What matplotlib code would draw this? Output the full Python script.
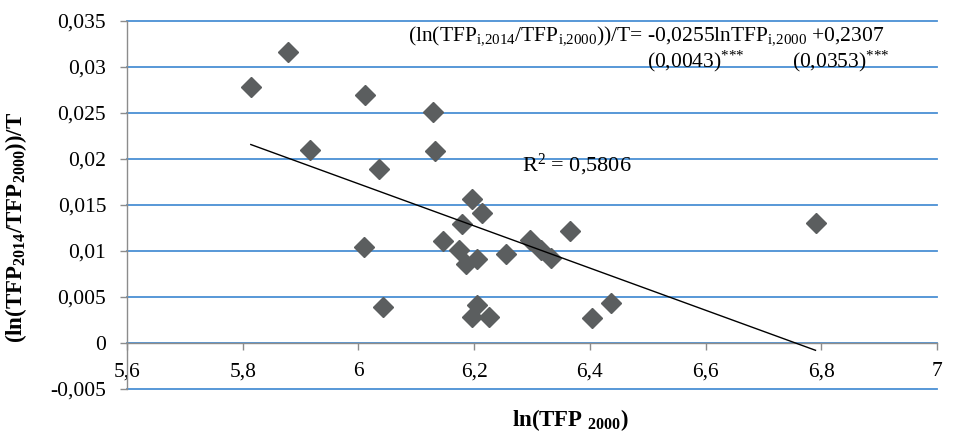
import matplotlib
matplotlib.use('Agg')
import matplotlib.pyplot as plt
import numpy as np

# ---- data ----
ln_tfp_2000 = [5.814, 5.879, 5.916, 6.012, 6.036, 6.010, 6.043, 6.129, 6.133,
               6.197, 6.214, 6.179, 6.147, 6.174, 6.186, 6.205, 6.255, 6.205,
               6.197, 6.226, 6.297, 6.316, 6.333, 6.366, 6.403, 6.436, 6.790]
growth_rate = [0.02783, 0.03163, 0.02098, 0.02696, 0.01891, 0.01043, 0.00391,
               0.02511, 0.02087, 0.01565, 0.01413, 0.01293, 0.01109, 0.01011,
               0.00859, 0.00913, 0.00967, 0.00413, 0.00283, 0.00283, 0.01120,
               0.01011, 0.00924, 0.01217, 0.00272, 0.00435, 0.01304]

x_ticks = [5.6, 5.8, 6.0, 6.2, 6.4, 6.6, 6.8, 7.0]
x_tick_labels = ['5,6', '5,8', '6', '6,2', '6,4', '6,6', '6,8', '7']
y_ticks = [-0.005, 0.0, 0.005, 0.01, 0.015, 0.02, 0.025, 0.03, 0.035]
y_tick_labels = ['-0,005', '0', '0,005', '0,01', '0,015', '0,02', '0,025', '0,03', '0,035']

equation_text = (r'(ln(TFP$_{\mathrm{i{,}2014}}$/TFP$_{\mathrm{i{,}2000}}$))/T= '
                 r'-0,0255lnTFP$_{\mathrm{i{,}2000}}$ +0,2307')
se_slope_text = r'(0,0043)$^{{*}{*}{*}}$'
se_const_text = r'(0,0353)$^{{*}{*}{*}}$'
r2_text = r'R$^{2}$ = 0,5806'
y_label = r'(ln(TFP$_{\mathbf{2014}}$/TFP$_{\mathbf{2000}}$))/T'
x_label = r'ln(TFP $_{\mathbf{2000}}$)'

# ---- style ----
plt.rcParams['font.family'] = ['Liberation Serif', 'DejaVu Serif']
plt.rcParams['mathtext.fontset'] = 'custom'
plt.rcParams['mathtext.rm'] = 'Liberation Serif'
plt.rcParams['mathtext.it'] = 'Liberation Serif:italic'
plt.rcParams['mathtext.bf'] = 'Liberation Serif:bold'

W, H = 958, 447
fig = plt.figure(figsize=(W / 100, H / 100), dpi=100)
ax = fig.add_axes([127 / W, 1 - 389 / H, 810 / W, 368 / H])

grid_c = '#4A90D4'
axis_c = '#8C8C8C'
mark_c = '#5B5E5F'

ax.set_xlim(5.6, 7.0)
ax.set_ylim(-0.005, 0.035)
ax.set_xticks(x_ticks)
ax.set_xticklabels(x_tick_labels)
ax.set_yticks(y_ticks)
ax.set_yticklabels(y_tick_labels)

ax.yaxis.grid(True, color=grid_c, lw=1.3)
ax.xaxis.grid(False)
ax.set_axisbelow(True)
for gl in ax.get_ygridlines():
    gl.set_clip_on(False)

ax.spines['top'].set_visible(False)
ax.spines['right'].set_visible(False)
ax.spines['bottom'].set_position(('data', 0))
ax.spines['bottom'].set_color(axis_c)
ax.spines['left'].set_color(axis_c)
ax.spines['bottom'].set_linewidth(1.0)
ax.spines['left'].set_linewidth(1.0)
ax.tick_params(axis='both', direction='out', length=5, width=1, color=axis_c,
               labelsize=15.5, labelcolor='black')
ax.tick_params(axis='x', pad=9)
ax.tick_params(axis='y', pad=10)

ax.plot(ln_tfp_2000, growth_rate, linestyle='none', marker='D', ms=10.5,
        color=mark_c, mec=mark_c, zorder=3)

coef = np.polyfit(ln_tfp_2000, growth_rate, 1)
xs = np.array([min(ln_tfp_2000), max(ln_tfp_2000)])
ax.plot(xs, np.polyval(coef, xs), color='black', lw=1.0, zorder=4)

def ftxt(px, py, s, **kw):
    fig.text(px / W, 1 - py / H, s, **kw)

ftxt(408, 40, equation_text, fontsize=15.5, ha='left', va='baseline')
ftxt(647, 67, se_slope_text, fontsize=15.5, ha='left', va='baseline')
ftxt(792, 67, se_const_text, fontsize=15.5, ha='left', va='baseline')
ftxt(522, 165, r2_text, fontsize=16, ha='left', va='center')
ftxt(16, 227, y_label, fontsize=16.5, fontweight='bold', rotation=90, ha='center', va='center')
ftxt(570, 420, x_label, fontsize=16.5, fontweight='bold', ha='center', va='center')

fig.savefig('out.png', dpi=100)
